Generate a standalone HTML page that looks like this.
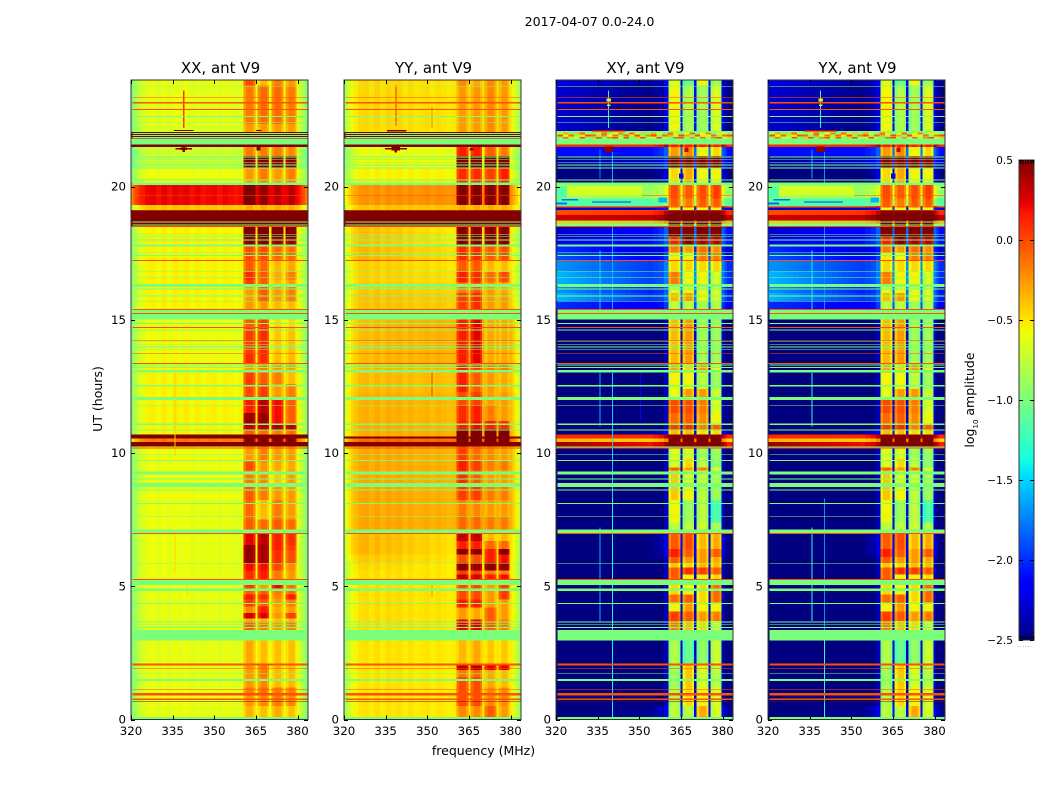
<!DOCTYPE html>
<html>
<head>
<meta charset="utf-8">
<title>2017-04-07 0.0-24.0</title>
<style>
html,body{margin:0;padding:0;background:#fff;}
svg{display:block;font-family:"DejaVu Sans","Liberation Sans",sans-serif;fill:#000;}
</style>
</head>
<body>
<svg id="figure" width="1050" height="800" viewBox="0 0 1050 800" xmlns="http://www.w3.org/2000/svg">
<rect x="0" y="0" width="1050" height="800" fill="#fff"/>
<text x="589.5" y="26" font-size="12.6" text-anchor="middle">2017-04-07 0.0-24.0</text>
<text x="483.5" y="755" font-size="12.5" text-anchor="middle">frequency (MHz)</text>
<text transform="translate(102,399) rotate(-90)" font-size="12.5" text-anchor="middle">UT (hours)</text>
<text transform="translate(974,400) rotate(-90)" font-size="12.5" text-anchor="middle">log<tspan baseline-shift="sub" font-size="7">10</tspan> amplitude</text>
<text x="1017" y="647" font-size="6" fill="#777" letter-spacing="0.7">......</text>
</svg>
<script>
// ---- Axis ticks ----
const freqTicks = [320, 335, 350, 365, 380];
const utTicks = [0, 5, 10, 15, 20];
const colorbarTicks = [0.5, 0, -0.5, -1, -1.5, -2, -2.5];
const colorbarTickLabels = ['0.5', '0.0', '\u22120.5', '\u22121.0', '\u22121.5', '\u22122.0', '\u22122.5'];
const panelTitles = ['XX, ant V9', 'YY, ant V9', 'XY, ant V9', 'YX, ant V9'];

// ---- Frequency channels (MHz) ----
const channelEdges = [320,320.7,321.5,322.5,323.5,325,327,329,331,333,335,337,339,341,343,345,347,349,351,353,355,357,359,360.5,
  361.5,364,364.9,365.6,366.6,369,369.7,370.7,371.7,374,374.9,375.7,376.7,379,379.7,380.7,381.7,382.7,383.8];
const channelBand = [0,0,0,0,0,0,0,0,0,0,0,0,0,0,0,0,0,0,0,0,0,0,0,
  1,1,1,0,2,2,2,0,3,3,3,0,4,4,4,0,0,0,0];
const parallelOffset = [-.4,-.3,-.2,-.12,-.06,0,.02,-.02,.03,-.02,.03,0,.03,-.02,.02,-.02,0,.02,-.02,.02,0,-.02,0,
  -.06,.05,-.06,.03,-.06,.05,-.06,.03,-.06,.05,-.06,.03,-.06,.05,-.06,0,-.1,-.2,-.35];
const crossOffset = [0,0,0,0,0,0,0,0,0,0,0,0,0,0,0,0,0,0,0,0,.05,.1,.25,
  -.1,.05,-.1,.3,-.1,.05,-.1,.3,-.1,.05,-.1,.3,-.1,.05,-.1,.25,.1,0,0];

// ---- Per-panel rows: [start UT, low-left, low-right, block A, B, C, D] in log10 amplitude ----
const rowsXX = [
[0,-.62,-.62,-.38,-.42,-.35,-.42],[.5,-.62,-.62,-.3,-.25,-.2,-.25],[1,-.62,-.62,-.2,-.15,-.2,-.2],[1.2,-.62,-.62,-.3,-.25,-.4,-.4],
[1.6,-.62,-.62,-.3,-.2,-.4,-.4],[2.1,-.62,-.62,-.35,-.42,-.42,-.42],[3.36,-.62,-.62,-.1,-.2,-.3,-.2],[3.7,-.62,-.62,-.35,-.4,-.42,-.4],
[3.8,-.62,-.62,.25,.2,-.3,0],[4,-.62,-.62,-.25,.1,-.35,-.3],[4.25,-.62,-.62,0,-.1,-.3,-.2],[4.5,-.62,-.62,.1,.05,-.25,.1],
[4.7,-.62,-.62,-.1,-.1,-.2,-.15],[4.85,-.62,-.62,0,-.3,.15,-.15],[5.26,-.6,-.62,.05,.1,-.2,-.3],[5.6,-.6,-.62,.15,.15,-.05,-.25],
[5.87,-.6,-.62,.4,.35,.05,-.05],[6.35,-.6,-.62,.42,.38,.1,0],[6.55,-.6,-.62,.2,.3,.1,.05],[7.14,-.6,-.62,-.1,-.15,-.1,-.15],
[7.5,-.6,-.62,-.15,-.4,-.2,-.3],[8.24,-.6,-.6,-.1,-.2,-.3,-.3],[8.87,-.6,-.6,-.2,-.25,-.45,-.3],[9.35,-.6,-.6,-.05,-.3,-.35,-.35],
[9.68,-.6,-.6,-.3,-.2,-.3,-.3],[10.24,.55,.55,.55,.55,.55,.55],[10.42,-.15,-.15,.45,.45,.45,.45],[10.55,.55,.55,.55,.55,.55,.55],
[10.69,-.55,-.55,-.1,-.15,-.2,-.15],[10.87,-.55,-.55,.3,.3,.35,.3],[11.1,-.55,-.55,.4,.4,.15,-.1],[11.5,-.55,-.55,.1,.3,.15,-.1],
[12.1,-.55,-.55,-.05,0,-.3,-.2],[12.6,-.55,-.55,0,-.1,-.2,-.4],[13.05,-.55,-.55,-.3,-.2,-.3,-.3],[13.37,-.58,-.6,.05,.05,-.42,-.4],
[13.75,-.58,-.6,0,.05,-.45,-.42],[14.7,-.58,-.6,-.1,0,-.5,-.5],[15.4,-.55,-.55,-.3,-.3,-.4,-.4],[15.68,-.55,-.55,-.3,-.1,-.3,-.2],
[16.25,-.55,-.55,0,-.1,-.4,-.3],[16.5,-.55,-.55,.05,-.1,-.35,-.2],[16.8,-.55,-.55,-.1,-.15,-.4,-.35],[17.25,-.55,-.55,-.05,-.05,-.15,-.15],
[17.8,-.55,-.55,.45,.45,.4,.4],[18.1,-.55,-.55,.5,.5,.5,.5],[18.5,.55,.55,.55,.55,.55,.55],[19.13,-.4,-.4,-.35,-.35,-.35,-.35],
[19.3,.22,.2,.5,.4,.3,.3],[20.16,-.6,-.6,-.3,-.2,-.3,-.2],[20.7,-.72,-.72,.45,.45,.45,.45],[21.15,-.72,-.72,-.2,-.2,-.2,-.25],
[21.48,.55,.55,.55,.55,.55,.55],[21.58,-1,-1,-1,-1,-1,-1],[21.8,.55,.55,.55,.55,.55,.55],[22.05,-.66,-.66,-.3,-.3,-.3,-.3],
[22.35,-.62,-.62,-.2,-.15,-.15,-.2],[23.8,-.62,-.62,-.05,-.4,-.2,-.3]];

const rowsYY = [
[0,-.5,-.52,-.25,-.25,-.1,-.3],[.5,-.5,-.52,-.05,-.05,-.25,-.25],[1.2,-.5,-.52,-.05,-.05,-.35,-.4],[1.6,-.5,-.52,-.2,-.15,-.35,-.4],
[1.85,-.5,-.52,.3,.35,.2,.2],[2.1,-.5,-.52,-.4,-.35,-.45,-.45],[3.36,-.48,-.5,.2,.2,-.1,-.2],[3.75,-.48,-.5,-.3,-.35,-.1,-.3],
[4.2,-.48,-.5,.1,.1,-.3,-.3],[4.5,-.48,-.5,-.05,-.05,-.3,0],[5.26,-.48,-.52,.3,.25,.1,.15],[5.45,-.48,-.52,0,0,-.2,-.2],
[5.6,-.45,-.52,.45,.4,.45,.4],[5.86,-.4,-.5,-.05,-.05,.1,.15],[6.2,-.33,-.48,.45,.45,.1,.45],[6.4,-.33,-.48,.1,.1,-.15,-.15],
[6.7,-.33,-.48,.3,.3,-.4,-.4],[7.14,-.3,-.33,-.15,-.15,-.2,-.2],[7.6,-.3,-.33,-.2,-.25,-.3,-.3],[8.24,-.3,-.33,0,0,-.2,-.2],
[8.87,-.3,-.33,.05,-.1,-.3,-.3],[9.35,-.3,-.33,.1,0,-.2,-.2],[9.7,-.3,-.33,0,-.15,-.25,-.3],[10.24,.55,.55,.55,.55,.55,.55],
[10.42,-.1,-.1,.5,.5,.5,.5],[10.55,.55,.55,.55,.55,.55,.55],[10.62,-.32,-.32,.5,.5,.5,.5],[10.9,-.32,-.35,.1,.15,.1,.05],
[11.2,-.33,-.35,.05,.1,-.2,-.3],[11.8,-.33,-.35,-.05,0,-.3,-.3],[12.3,-.36,-.38,.1,-.1,-.3,-.35],[13,-.38,-.36,.1,0,-.2,-.2],
[13.37,-.38,-.33,.1,.2,-.35,-.35],[15.4,-.38,-.42,0,.05,-.3,-.3],[16,-.4,-.45,-.2,-.1,-.3,-.35],[16.4,-.42,-.48,.1,.05,-.15,-.05],
[16.8,-.42,-.5,-.1,-.1,-.4,-.4],[17.25,-.33,-.48,.05,.05,-.1,-.05],[17.8,-.35,-.52,.45,.45,.45,.45],[18.5,.55,.55,.55,.55,.55,.55],
[19.13,-.4,-.4,-.35,-.35,-.35,-.35],[19.3,-.25,-.22,.45,.45,.45,.45],[20.16,-.55,-.55,.05,.05,0,.1],[20.7,-.58,-.58,.5,.5,.5,.5],
[21.15,-.62,-.62,.1,.1,-.1,-.2],[21.48,.55,.55,.55,.55,.55,.55],[21.58,-1,-1,-1,-1,-1,-1],[21.8,.55,.55,.55,.55,.55,.55],
[22.05,-.45,-.5,-.3,-.3,-.25,-.3],[23.8,-.45,-.5,-.25,-.35,-.25,-.3]];

const rowsXY = [
[0,-2.5,-2.45,-.8,-.8,-.35,-.7],[.5,-2.6,-2.6,-.85,-.5,-.6,-.7],[1.2,-2.55,-2.6,-.9,-.45,-.7,-.8],[2.1,-2.6,-2.6,-.85,-1.1,-.95,-.75],
[3.36,-2.6,-2.6,-.2,-.4,-.5,-.75],[3.7,-2.6,-2.6,0,-.1,-.3,-.2],[4.05,-2.6,-2.6,-.6,-.3,-.6,-.6],[4.4,-2.6,-2.6,-.15,-.1,-.5,-.15],
[4.7,-2.6,-2.6,-.5,-.6,-.5,-.15],[5.26,-2.6,-2.6,-.1,-.6,-.6,-.5],[5.45,-2.6,-2.6,-.1,.05,0,-.1],[5.7,-2.6,-2.6,-.45,-.5,-.4,-.4],
[5.87,-2.55,-2.6,-.1,-.3,-.3,-.35],[6.1,-2.5,-2.5,.1,-.1,-.3,-.1],[6.4,-2.5,-2.5,-.1,-.05,-.4,-.35],[7.14,-2.6,-2.6,-.8,-.8,-.75,-.85],
[7.4,-2.6,-2.6,-.6,-.9,-.8,-1.2],[8.24,-2.6,-2.6,-.45,-.6,-.8,-.9],[8.87,-2.55,-2.6,-.45,-.7,-.75,-.85],[9.35,-2.6,-2.6,-.1,-.3,-.2,-.7],
[9.45,-2.6,-2.6,-.7,-.5,-.8,-.95],[9.8,-2.6,-2.6,-.7,-.7,-.9,-.9],[10.17,-1,-1,-1,-1,-1,-1],[10.24,.42,.15,.55,.55,.55,.55],
[10.42,-.35,-.45,.55,.55,.55,.55],[10.55,.1,.1,.55,.55,.55,.55],[10.69,-2.6,-2.4,-.4,-.4,-.5,-.5],[10.87,-2.6,-2.6,0,.05,-.2,-.1],
[11.1,-2.6,-2.6,-.15,-.1,-.25,-.6],[11.5,-2.6,-2.6,-.05,-.05,-.2,-.7],[12,-2.6,-2.6,-.65,-.3,-.3,-.75],[12.4,-2.6,-2.6,-.6,-.6,-.8,-.9],
[13,-2.6,-2.6,-.35,-.5,-.3,-.7],[13.37,-2.6,-2.6,-.4,-.3,-.9,-.9],[15.4,-2,-2.2,-.8,-.8,-.9,-.85],[15.7,-1.6,-2.05,-.4,-.3,-.6,-.7],
[16,-1.7,-2.1,-.7,-.6,-.7,-.7],[16.3,-1.6,-2,-.2,-.6,-.6,-.7],[16.8,-1.7,-2,-.5,-.5,-.5,-.5],[17.25,-1.9,-2.2,-.55,-.6,-.2,-.2],
[17.5,-2,-2.3,-.2,-.3,-.15,-.25],[17.8,-2.2,-2.1,.1,.45,.35,.3],[18.1,-2.3,-2.1,.55,.55,.55,.55],[18.5,-.9,-.9,.55,.55,.55,.55],
[18.62,-.4,-.3,.55,.55,.55,.55],[18.72,.3,.35,.55,.55,.55,.55],[18.93,0,.1,.55,.55,.55,.55],[19.13,-2.3,-2.3,-.6,-.6,-.6,-.6],
[19.22,-.1,-.1,-.1,-.1,-.1,-.1],[19.28,-1.15,-1.15,-.1,-.2,-.1,-.1],[19.55,-.85,-.9,-.05,-.1,-.05,0],[20.16,-2.6,-2.5,-.5,-.35,-.6,-.6],
[20.7,-2.4,-2.3,.45,.45,.45,.45],[21.15,-2.1,-2.1,-.3,-.25,-.6,-.5],[21.48,.1,.1,.1,.1,.1,.1],[21.58,-1,-1,-1,-1,-1,-1],
[22.08,-2.3,-2.5,-.6,-.85,-.9,-.7],[23.8,-2.25,-2.45,-.7,-1.1,-.6,-.9]];
const rowsYX = rowsXY;

// ---- Flagged (saturated green) and RFI line intervals in UT hours ----
const flagBands = [[.02,.09],[1.45,1.52],[1.72,1.75],[2.96,3.36],[3.44,3.47],[3.54,3.57],[3.64,3.67],[4.34,4.37],[4.83,4.91],[5.05,5.24],
[5.85,5.88],[6.99,7.14],[7.61,7.64],[8.09,8.12],[8.6,8.63],[8.73,8.87],[9,9.05],[9.19,9.3],[9.71,9.74],[9.92,9.95],[10.85,10.88],[11.05,11.1],
[11.78,11.81],[12,12.1],[12.5,12.56],[13.02,13.12],[13.2,13.23],[13.29,13.32],[13.86,13.89],[13.96,13.99],[14.05,14.08],[14.16,14.19],
[14.6,14.64],[14.85,14.88],[15.02,15.24],[15.25,15.37],[15.66,15.69],[15.89,15.91],[16.14,16.17],[16.24,16.34],[16.58,16.61],[16.81,16.84],
[17.4,17.43],[17.52,17.55],[17.75,17.82],[17.98,18.01],[18.1,18.13],[18.2,18.23],[18.54,18.57],[18.66,18.69],[20.06,20.16],[20.24,20.26],
[20.68,20.71],[20.8,20.83],[20.89,20.91],[20.99,21.02],[21.09,21.12],[21.58,21.8],[22.4,22.43],[22.62,22.65],[23.75,23.78]];
const flagLevel = -1;
const rfiBands = [[.74,.79],[.9,1],[1.1,1.13],[1.91,1.94],[2.03,2.1],[5.24,5.27],[6.97,7],[10.17,10.2],[13.35,13.38],[13.73,13.76],[14.22,14.25],
[14.7,14.73],[15.23,15.25],[15.38,15.4],[17.21,17.24],[18.48,18.52],[19.1,19.13],[19.66,19.69],[22.88,22.91],[23.12,23.17],[23.34,23.37]];
const rfiLevel = -.02;
const darkLine = [.68,.7];
const darkLineLevel = .45;
const parallelStripes = [[21.83,21.86],[21.9,21.935],[21.97,22.01]];
const parallelStripeLevel = -1;

// ---- Narrow vertical spurs: [MHz, UT start, UT end, level] ----
const spursXX = [[339,22.2,23.6,.05],[335.9,9.9,13,-.42],[335.9,5.5,7,-.45],[340.3,4.6,5.2,-.45]];
const spursYY = [[338.7,22.3,23.8,.1],[351.7,12.15,13,.1],[351.7,22.2,23,-.15],[351.7,4.6,5.2,-.2]];
const spursXY = [[340.3,0,8.3,-1.4],[335.8,3.7,7.2,-1.6],[340.3,8.3,13,-1.5],[335.8,11,13,-1.6],[338.9,22.2,23.6,-1.35],[335.8,15.4,17.6,-1.5],[340.3,15.4,18.5,-1.6],[340.3,20.16,21.5,-1.6],[335.8,20.3,21.4,-1.7],[350.5,11.2,13,-2.2]];
const spursYX = [[340.3,0,3,-1.3],[335.8,3.7,7.2,-1.3],[340.3,3,8.3,-1.7],[335.8,11,13,-1.3],[338.9,22.2,23.6,-1.35],[335.8,15.4,17.6,-1.4],[340.3,15.4,18.5,-1.7],[340.3,20.16,21.5,-1.7],[335.8,20.3,21.4,-1.6]];

// ---- Localised hot/cold spots: [MHz, UT, width MHz, height hours, level] ----
const spotsXX = [[339,21.42,6,.04,.45],[339,21.42,2.5,.1,.5],[339,21.42,.8,.25,.5],[339,22.1,7,.04,.5],[366,21.42,1.5,.12,.5],[366,22.1,2,.04,.5]];
const spotsYY = [[338.7,21.42,8,.04,.45],[338.7,21.42,3,.12,.55],[338.7,21.42,.9,.3,.55],[339,22.1,7,.05,.5],[366,21.4,1.5,.1,.4]];
const spotsXY = [[339,21.4,3,.22,.45],[339,23.25,1.5,.1,-.5],[339,23.05,1.2,.06,-.8],[339,22.1,12,.05,.3],[367,21.38,1.5,.18,.3],[337,19.85,28,.36,-.68],[322,19.8,4,.45,-1.15],[325,19.5,6,.05,-1.8],[340,19.42,14,.05,-1.95],[322,19.36,4,.08,-1.8],[358.5,19.5,3,.18,-1.6],[365.2,20.4,1.6,.2,-2.2]];
const spotsYX = spotsXY;

// ---- Mottled rows of the cross-hands near UT 21.7-22.05: levels every 2 MHz ----
const mottleHours = [21.76,21.84,21.92,22];
const mottleA = [-.5,0,0,-1,-.2,0,-1,-1,-.5,0,-.2,-1,-.4,-.1,-1,-.5,-.1,-1,-.5,0,-.4,-1,-.6,-.1,-.5,-1,-.3,-.1,-.8,-.2,-.1,-.8];
const mottleB = [-1,-.1,-.5,-.6,0,-1,-.4,0,-1,-.2,0,-.5,0,-1,-.4,0,-.8,-.5,0,-.7,-1,-.1,0,-.9,-.2,-.7,-.1,-.8,-.2,0,-.7,-.4];
const mottleC = [0,-.6,-.1,-1,-.5,0,-.1,-1,-.2,-.6,-.1,-1,-.1,-.5,0,-1,-.2,0,-1,-.1,-.3,-.8,0,-.3,-1,0,-.5,-.7,-.1,-.9,-.1,0];
const mottleD = [-.7,-.3,-1,-.4,-.1,-.8,-1,-.5,-.1,-1,-.6,-.2,-1,-.1,-.7,-.4,-1,-.3,-.6,-1,-.1,-.5,-1,-.6,-.1,-1,-.6,-.2,-1,-.5,-.7,-1];
const mottleRows = [mottleA, mottleB, mottleC, mottleD];

// ---- Colour scale ----
const vmin = -2.5, vmax = 0.5;
function ramp(stops, t){
  for (let i = 1; i < stops.length; i++) {
    if (t <= stops[i][0]) {
      const a = stops[i-1], b = stops[i];
      return a[1] + (b[1]-a[1]) * (t-a[0]) / (b[0]-a[0]);
    }
  }
  return stops[stops.length-1][1];
}
const jetR = [[0,0],[.35,0],[.66,1],[.89,1],[1,.5]];
const jetG = [[0,0],[.125,0],[.375,1],[.64,1],[.91,0],[1,0]];
const jetB = [[0,.5],[.11,1],[.34,1],[.65,0],[1,0]];
function colorOf(v){
  const t = Math.max(0, Math.min(1, (v - vmin) / (vmax - vmin)));
  return 'rgb(' + Math.round(ramp(jetR,t)*255) + ',' + Math.round(ramp(jetG,t)*255) + ',' + Math.round(ramp(jetB,t)*255) + ')';
}

// ---- Layout ----
const svg = document.getElementById('figure');
const NS = 'http://www.w3.org/2000/svg';
const panelLefts = [131, 344, 556, 768];
const panelWidth = 177;
const plotTop = 80, plotBottom = 719.5;
const pxPerMHz = 2.775;
const utMax = 24;
function xScale(left, mhz){ return left + (mhz - 320) * pxPerMHz; }
function yScale(ut){ return plotBottom - ut * (plotBottom - plotTop) / utMax; }
function makeRect(parent, x0, x1, y0, y1, fill){
  const r = document.createElementNS(NS, 'rect');
  r.setAttribute('x', x0.toFixed(2));
  r.setAttribute('y', Math.min(y0,y1).toFixed(2));
  r.setAttribute('width', Math.max(.5, x1-x0).toFixed(2));
  r.setAttribute('height', Math.max(.75, Math.abs(y1-y0)).toFixed(2));
  r.setAttribute('fill', fill);
  r.setAttribute('shape-rendering', 'crispEdges');
  parent.appendChild(r);
  return r;
}
function makeLine(parent, x1, y1, x2, y2, stroke){
  const l = document.createElementNS(NS, 'line');
  l.setAttribute('x1', x1); l.setAttribute('y1', y1);
  l.setAttribute('x2', x2); l.setAttribute('y2', y2);
  l.setAttribute('stroke', stroke);
  l.setAttribute('stroke-width', '1');
  parent.appendChild(l);
  return l;
}
function makeText(parent, x, y, size, anchor, str){
  const t = document.createElementNS(NS, 'text');
  t.setAttribute('x', x); t.setAttribute('y', y);
  t.setAttribute('font-size', size);
  t.setAttribute('text-anchor', anchor);
  t.textContent = str;
  parent.appendChild(t);
  return t;
}
function makeGroup(){
  const g = document.createElementNS(NS, 'g');
  svg.appendChild(g);
  return g;
}

const panelRows = [rowsXX, rowsYY, rowsXY, rowsYX];
const panelSpurs = [spursXX, spursYY, spursXY, spursYX];
const panelSpots = [spotsXX, spotsYY, spotsXY, spotsYX];
const panelIsCross = [false, false, true, true];

panelRows.forEach(function(rows, p){
  const left = panelLefts[p];
  const cross = panelIsCross[p];
  const offsets = cross ? crossOffset : parallelOffset;
  const g = makeGroup();
  
  

  // base cells: one per row x channel
  rows.forEach(function(row, i){
    const u0 = row[0];
    const u1 = i + 1 < rows.length ? rows[i+1][0] : utMax;
    for (let c = 0; c < channelBand.length; c++) {
      const f0 = channelEdges[c], f1 = channelEdges[c+1];
      const band = channelBand[c];
      let v;
      if (band > 0) {
        v = row[band + 2];
      } else {
        const frac = Math.max(0, Math.min(1, ((f0+f1)/2 - 322) / 38));
        v = row[1] + (row[2] - row[1]) * frac;
      }
      if (v < .5 && v !== -1) v += offsets[c];
      const cell = makeRect(g, xScale(left,f0), xScale(left,f1), yScale(u0), yScale(u1), colorOf(v));
      
      
    }
  });

  // cross-hand mottled rows
  if (cross) {
    mottleRows.forEach(function(vals, r){
      vals.forEach(function(v, k){
        const cell = makeRect(g, xScale(left,320.5+k*1.98), xScale(left,322.48+k*1.98), yScale(mottleHours[r]-.04), yScale(mottleHours[r]+.03), colorOf(v));
        
        
      });
    });
  }

  // vertical spurs
  panelSpurs[p].forEach(function(s){
    const spur = makeRect(g, xScale(left,s[0]-.2), xScale(left,s[0]+.2), yScale(s[1]), yScale(s[2]), colorOf(s[3]));
    
    
  });

  // flagged bands
  flagBands.forEach(function(b){
    const band = makeRect(g, xScale(left,320.5), xScale(left,383.8), yScale(b[0]), yScale(b[1]), colorOf(flagLevel));
    
    
  });

  // RFI lines
  rfiBands.forEach(function(b){
    const band = makeRect(g, xScale(left,320.5), xScale(left,383.8), yScale(b[0]), yScale(b[1]), colorOf(rfiLevel));
    
    
  });
  const dark = makeRect(g, xScale(left,320.5), xScale(left,383.8), yScale(darkLine[0]), yScale(darkLine[1]), colorOf(darkLineLevel));
  
  

  // stripes through hot parallel-hand rows
  if (!cross) {
    parallelStripes.forEach(function(b){
      const stripe = makeRect(g, xScale(left,320.5), xScale(left,383.8), yScale(b[0]), yScale(b[1]), colorOf(parallelStripeLevel));
      
      
    });
  }

  // localised spots
  panelSpots[p].forEach(function(s){
    const spot = makeRect(g, xScale(left,s[0]-s[2]/2), xScale(left,s[0]+s[2]/2), yScale(s[1]-s[3]/2), yScale(s[1]+s[3]/2), colorOf(s[4]));
    
    
  });

  // frame
  const frame = makeRect(g, left, left+panelWidth, plotTop, plotBottom, 'none');
  frame.setAttribute('stroke', '#333');
  frame.setAttribute('stroke-width', '1');
  frame.setAttribute('shape-rendering', 'auto');
  
  

  // x ticks
  freqTicks.forEach(function(f){
    const x = Math.round(xScale(left,f)) + .5;
    const bottomTick = makeLine(g, x, plotBottom, x, plotBottom-4, '#000');
    
    
    const topTick = makeLine(g, x, plotTop, x, plotTop+4, '#000');
    
    
    const lab = makeText(g, xScale(left,f), 735, 11.8, 'middle', String(f));
    
    
  });

  // y ticks
  utTicks.forEach(function(u){
    const y = Math.round(yScale(u)) + .5;
    const leftTick = makeLine(g, left, y, left+4, y, '#000');
    
    
    const rightTick = makeLine(g, left+panelWidth, y, left+panelWidth-4, y, '#000');
    
    
    const lab = makeText(g, left-5, yScale(u)+4, 11.8, 'end', String(u));
    
    
  });

  const title = makeText(g, left+panelWidth/2+1, 73, 15, 'middle', panelTitles[p]);
  
  
});

// ---- Colorbar ----
const cbLeft = 1019, cbRight = 1034, cbTop = 160, cbBottom = 640;
function cbScale(v){ return cbBottom - (v - vmin) * (cbBottom - cbTop) / (vmax - vmin); }
const cbGroup = makeGroup();


const cbSteps = 256;
for (let i = 0; i < cbSteps; i++) {
  const v0 = vmin + (vmax - vmin) * i / cbSteps;
  const v1 = vmin + (vmax - vmin) * (i + 1) / cbSteps;
  const seg = makeRect(cbGroup, cbLeft, cbRight, cbScale(v0), cbScale(v1) - .5, colorOf((v0+v1)/2));
  
  
}
const cbFrame = makeRect(cbGroup, cbLeft, cbRight, cbTop, cbBottom, 'none');
cbFrame.setAttribute('stroke', '#333');
cbFrame.setAttribute('shape-rendering', 'auto');


colorbarTicks.forEach(function(v, i){
  const y = Math.round(cbScale(v)) + .5;
  const t1 = makeLine(cbGroup, cbLeft, y, cbLeft+4, y, '#000');
  
  
  const t2 = makeLine(cbGroup, cbRight, y, cbRight-4, y, '#000');
  
  
  const lab = makeText(cbGroup, 1013, cbScale(v)+4, 10.6, 'end', colorbarTickLabels[i]);
  
  
});
for (let k = 0; k < 6; k++) {
  const tt = makeLine(cbGroup, cbLeft+1.5+k*2.6, cbTop, cbLeft+1.5+k*2.6, cbTop+4, '#000');
  
  
  const bt = makeLine(cbGroup, cbLeft+1.5+k*2.6, cbBottom, cbLeft+1.5+k*2.6, cbBottom-4, '#000');
  
  
}
</script>
</body>
</html>
